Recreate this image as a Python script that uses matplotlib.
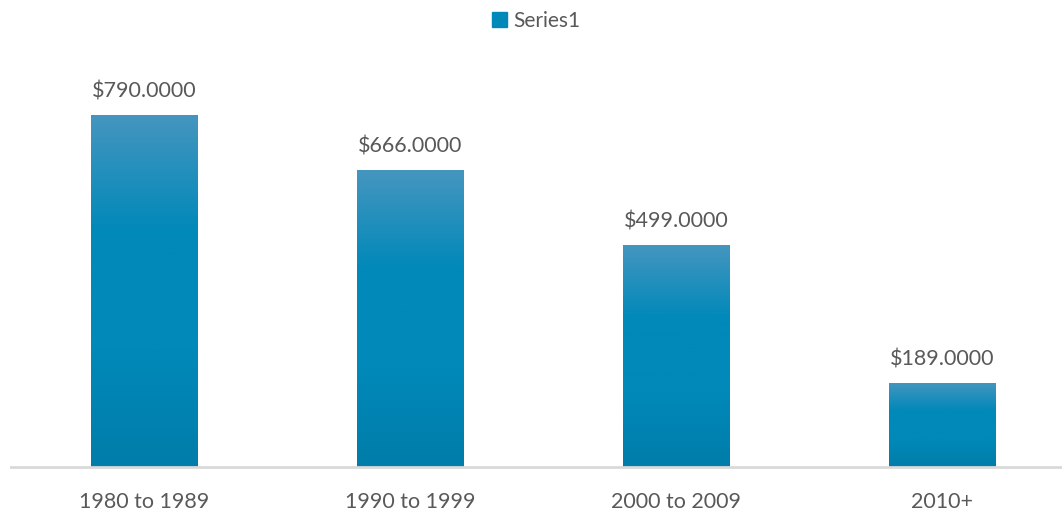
import matplotlib.pyplot as plt
import matplotlib.patheffects as pe
from matplotlib.patches import Patch
from matplotlib.colors import LinearSegmentedColormap
import numpy as np

categories = ['1980 to 1989', '1990 to 1999', '2000 to 2009', '2010+']
values = [790, 666, 499, 189]
series_name = 'Series1'

plt.rcParams['font.family'] = ['Lato', 'DejaVu Sans']

fig = plt.figure(figsize=(10.62, 5.13), dpi=100)
ax = fig.add_axes([11 / 1062, (513 - 467) / 513, 1064 / 1062, 420 / 513])

x = np.arange(len(categories))
bars = ax.bar(x, values, width=0.40, color='#0088B8', zorder=2,
              path_effects=[pe.SimplePatchShadow(offset=(0, 0), shadow_rgbFace='#000000', alpha=0.15, rho=0.5),
                            pe.Normal()])

# vertical gradient in each bar
cmap = LinearSegmentedColormap.from_list('g', ['#007DA9', '#0089B9', '#0089B9', '#4596BF'])
grad = np.linspace(0, 1, 256).reshape(-1, 1)
for b in bars:
    x0, w, h = b.get_x(), b.get_width(), b.get_height()
    im = ax.imshow(grad, extent=(x0, x0 + w, 0, h), origin='lower', cmap=cmap,
                   aspect='auto', zorder=3)
    im.set_clip_path(b)

for xi, v in zip(x, values):
    ax.text(xi, v + 30, '${:.4f}'.format(v), ha='center', va='bottom', fontsize=15.5, color='#595959')

ax.set_xlim(-0.5, 3.5)
ax.set_ylim(0, 420 / 0.4456)
ax.set_xticks(x)
ax.set_xticklabels(categories, fontsize=15.5, color='#595959')
ax.tick_params(axis='x', length=0, pad=18)
ax.set_yticks([])
for s in ['top', 'right', 'left']:
    ax.spines[s].set_visible(False)
ax.spines['bottom'].set_color('#D9D9D9')
ax.spines['bottom'].set_linewidth(2)
ax.spines['bottom'].set_zorder(4)

fig.legend(handles=[Patch(color='#0088B8', label=series_name)], loc='upper center',
           bbox_to_anchor=(0.505, 1.015), frameon=False, fontsize=15, handlelength=0.75,
           handleheight=0.75, handletextpad=0.3, labelcolor='#595959')

fig.savefig('out.png', dpi=100)
